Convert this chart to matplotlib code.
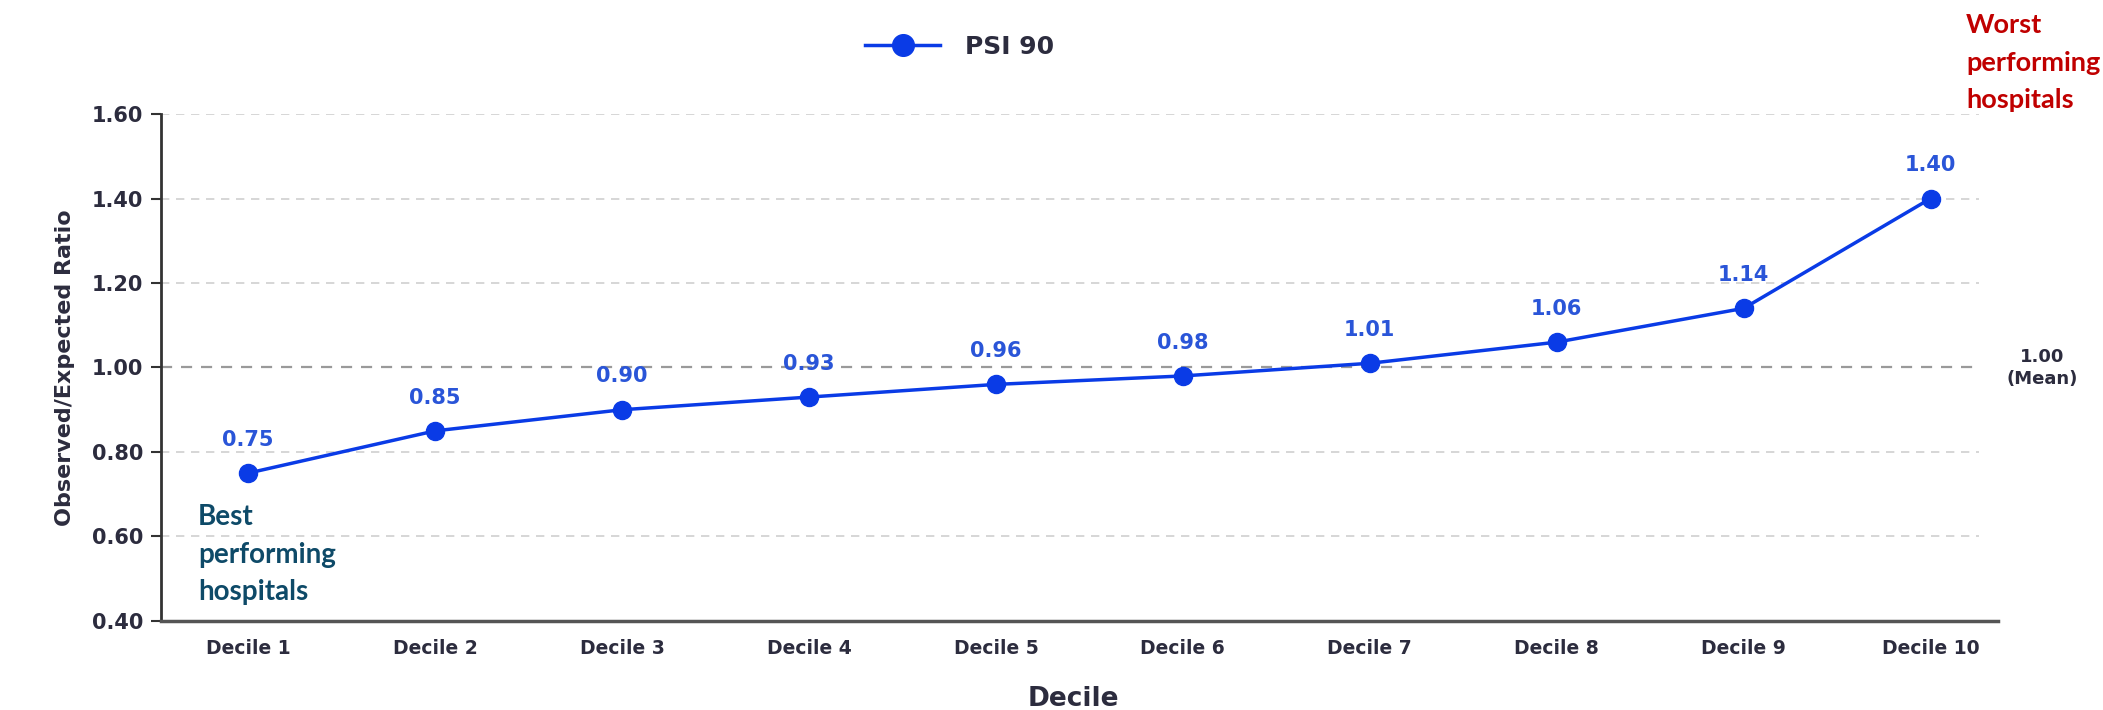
import numpy as np
import matplotlib.pyplot as plt

# 資料
deciles = ['Decile 1', 'Decile 2', 'Decile 3', 'Decile 4', 'Decile 5',
           'Decile 6', 'Decile 7', 'Decile 8', 'Decile 9', 'Decile 10']
psi90 = [0.75, 0.85, 0.90, 0.93, 0.96, 0.98, 1.01, 1.06, 1.14, 1.40]
y_ticks = [0.40, 0.60, 0.80, 1.00, 1.20, 1.40, 1.60]
mean_value = 1.00

line_color = '#0a3be6'
label_color = '#2a55d8'
text_color = '#2c2c3e'

plt.rcParams['font.family'] = ['DejaVu Sans']
fig = plt.figure(figsize=(21.03, 7.10), dpi=100)
ax = fig.add_axes([0.0766, 0.1254, 0.8734, 0.714])

x = np.arange(len(deciles))

# 格線
for t in y_ticks[1:]:
    if t == mean_value:
        continue
    ax.axhline(t, xmax=0.99, color='#d0d0d0', linestyle=(0, (5, 4)), linewidth=1.2, zorder=1)
ax.axhline(mean_value, xmax=0.99, color='#9a9a9a', linestyle=(0, (5, 4)), linewidth=1.6, zorder=1)

# 折線
ax.plot(x, psi90, color=line_color, linewidth=2.5, marker='o', markersize=13,
        markerfacecolor=line_color, markeredgecolor=line_color, label='PSI 90', zorder=3)

# 數值標籤
for xi, v in zip(x, psi90):
    ax.annotate(f'{v:.2f}', (xi, v), xytext=(0, 24), textcoords='offset points',
                ha='center', va='center', fontsize=15, fontweight='bold', color=label_color)

ax.set_xlim(-0.466, 9.36)
ax.set_ylim(0.40, 1.60)
ax.set_xticks(x)
ax.set_xticklabels(deciles, fontsize=13.5, fontweight='bold', color=text_color)
ax.set_yticks(y_ticks)
ax.set_yticklabels([f'{t:.2f}' for t in y_ticks], fontsize=15, fontweight='bold', color=text_color)
ax.tick_params(axis='x', length=0, pad=13)
ax.tick_params(axis='y', length=7, width=1.5, pad=6, color='#333333')

for s in ['top', 'right']:
    ax.spines[s].set_visible(False)
ax.spines['left'].set_linewidth(2)
ax.spines['left'].set_color('#333333')
ax.spines['bottom'].set_linewidth(2.5)
ax.spines['bottom'].set_color('#555555')

ax.set_ylabel('Observed/Expected Ratio', fontsize=16, fontweight='bold', color=text_color,
              labelpad=12)
fig.text(1073 / 2103, 1 - 699 / 710, 'Decile', ha='center', va='center',
         fontsize=19, fontweight='bold', color=text_color)

# 圖例
leg = fig.legend(loc='center', bbox_to_anchor=(960 / 2103, 1 - 47 / 710), frameon=False,
                 prop={'size': 18, 'weight': 'bold'}, handlelength=3.0, handletextpad=1.0,
                 markerscale=1.2)
for t in leg.get_texts():
    t.set_color(text_color)

# 註解
fig.text(1966 / 2103, 1 - 13 / 710, 'Worst\nperforming\nhospitals', ha='left', va='top',
         fontsize=19.5, fontweight='bold', color='#c00000', family=['Lato', 'DejaVu Sans'],
         linespacing=1.68)
fig.text(198 / 2103, 1 - 504 / 710, 'Best\nperforming\nhospitals', ha='left', va='top',
         fontsize=20, fontweight='bold', color='#0e4a68', family=['Lato', 'DejaVu Sans'],
         linespacing=1.55)
fig.text(2042 / 2103, 1 - 368 / 710, '1.00\n(Mean)', ha='center', va='center',
         fontsize=13, fontweight='bold', color=text_color, linespacing=1.3)

plt.savefig('out.png', dpi=100)
